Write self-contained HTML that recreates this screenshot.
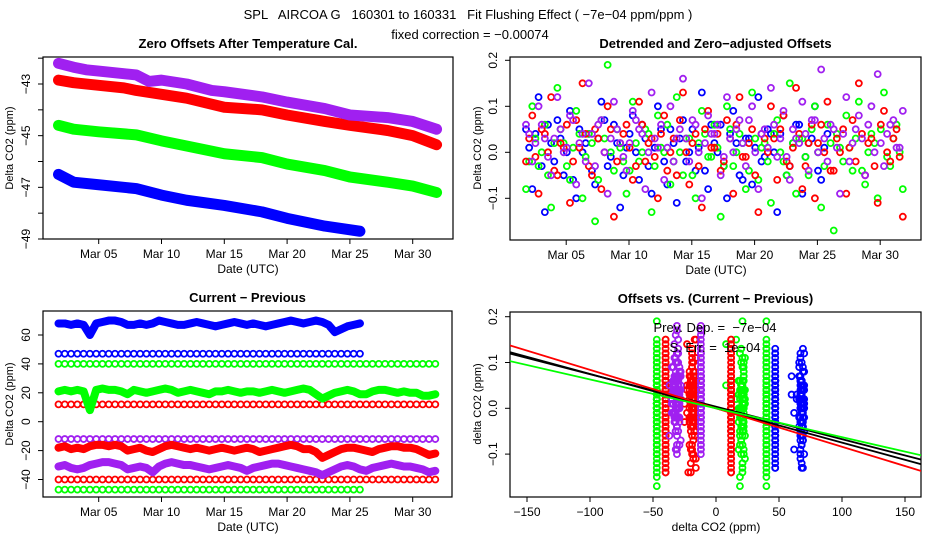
<!DOCTYPE html>
<html><head><meta charset="utf-8"><style>
html,body{margin:0;padding:0;background:#fff;}
svg{display:block;font-family:"Liberation Sans",sans-serif;}
text{white-space:pre;}
</style></head><body>
<svg id="chart" width="936" height="540" viewBox="0 0 936 540" xmlns="http://www.w3.org/2000/svg" xml:space="preserve">
<text x="468" y="19" text-anchor="middle" font-size="13">SPL   AIRCOA G   160301 to 160331   Fit Flushing Effect ( −7e−04 ppm/ppm )</text>
<text x="470" y="39" text-anchor="middle" font-size="13">fixed correction = −0.00074</text>
</svg>
<script>
// ---------- DATA ----------
const colors = {blue:"#0000ff", red:"#ff0000", green:"#00ff00", purple:"#a020f0"};
// Panel 1: zero offsets (day, ppm)
const p1PurpleDays = [1.8,3,4,5,7,8,9,10,12,14,15,18,20,23,25,28,30,31.9];
const p1PurpleVals = [-42.2,-42.35,-42.45,-42.5,-42.6,-42.65,-42.9,-42.85,-43.0,-43.25,-43.3,-43.5,-43.7,-43.95,-44.2,-44.3,-44.45,-44.75];
const p1RedDays = [1.8,3,5,7,8,10,12,15,18,20,23,25,28,30,31.9];
const p1RedVals = [-42.85,-42.95,-43.05,-43.15,-43.25,-43.4,-43.55,-43.9,-44.0,-44.2,-44.45,-44.6,-44.8,-45.0,-45.35];
const p1GreenDays = [1.8,3,5,8,10,12,15,18,20,23,25,28,30,31.9];
const p1GreenVals = [-44.6,-44.75,-44.85,-44.97,-45.2,-45.4,-45.7,-45.85,-46.1,-46.35,-46.6,-46.8,-46.95,-47.2];
const p1BlueDays = [1.8,3,5,8,10,12,15,18,20,23,25.8];
const p1BlueVals = [-46.5,-46.8,-46.9,-47.05,-47.3,-47.5,-47.7,-47.95,-48.2,-48.5,-48.7];

// time grid for panels 2-4 (days, 0.5-day spacing; second set offset 0.25 day)
const startDay = 1.8, stepDay = 0.5, offsetDay2 = 0.25;
// Panel 2: residuals (ppm)
const resBlue = [0.05,-0.08,0.12,-0.13,0.02,0.07,-0.05,0.09,-0.1,0.0,0.04,-0.07,0.11,-0.03,0.06,-0.12,0.01,0.08,-0.06,0.03,-0.09,0.1,-0.02,0.05,-0.11,0.07,0.0,-0.04,0.13,-0.08,0.02,0.06,-0.1,0.09,-0.05,0.03,-0.07,0.12,-0.01,0.04,-0.13,0.08,-0.03,0.06,-0.09,0.02,0.1,-0.06,0.04];
const resRed = [-0.02,0.08,-0.09,0.04,0.12,-0.05,0.01,-0.11,0.07,0.15,-0.03,0.05,-0.08,0.1,-0.14,0.02,0.06,-0.06,0.11,-0.02,0.03,-0.1,0.08,0.0,-0.05,0.13,-0.07,0.04,-0.12,0.09,0.01,-0.04,0.07,-0.09,0.12,-0.01,0.05,-0.13,0.03,0.1,-0.06,0.08,-0.03,0.14,-0.08,0.02,-0.1,0.06,0.11,-0.04,0.0,-0.09,0.07,0.15,-0.05,0.03,-0.11,0.09,-0.02,0.05,-0.14];
const resGreen = [-0.08,0.1,-0.03,0.06,-0.12,0.14,0.02,-0.06,0.09,-0.1,0.04,-0.15,0.07,0.19,-0.04,0.01,-0.09,0.11,-0.02,0.05,-0.13,0.08,0.0,-0.07,0.12,-0.05,0.03,-0.1,0.09,-0.01,0.06,-0.14,0.1,-0.03,0.04,-0.08,0.13,-0.06,0.02,-0.11,0.07,-0.02,0.15,-0.09,0.03,-0.05,0.1,-0.12,0.06,-0.17,0.01,0.08,-0.04,0.11,-0.07,0.04,-0.1,0.13,-0.03,0.06,-0.08];
const resPurple = [0.06,-0.02,0.1,0.03,-0.05,0.12,0.0,0.08,-0.07,0.04,0.15,-0.03,0.07,-0.09,0.11,0.02,-0.04,0.09,0.05,-0.08,0.13,0.01,-0.06,0.1,0.03,0.16,-0.02,0.06,-0.1,0.08,0.04,-0.05,0.12,0.0,0.07,-0.03,0.1,-0.08,0.05,0.14,-0.01,0.09,-0.06,0.03,0.11,-0.04,0.07,0.18,-0.02,0.05,-0.09,0.12,0.02,0.08,-0.05,0.1,0.17,-0.03,0.06,0.01,0.09];
const resBlue2 = [0.01,0.04,-0.03,0.06,-0.02,0.03,0.0,-0.06,0.05,0.02,-0.04,0.03,0.07,-0.01,0.02,-0.05,0.04,0.0,0.06,-0.03,0.01,0.05,-0.07,0.02,0.03,-0.02,0.05,0.01,-0.04,0.06,0.0,-0.03,0.04,0.02,-0.06,0.03,0.01,-0.02,0.05,0.0,0.04,-0.05,0.02,0.06,-0.01,0.03,-0.04,0.01];
const resRed2 = [0.03,-0.01,0.05,0.0,-0.04,0.02,0.06,-0.02,0.01,0.04,-0.05,0.03,0.0,0.05,-0.02,0.04,0.01,-0.03,0.06,0.02,-0.01,0.04,-0.04,0.03,0.07,0.0,0.02,-0.03,0.05,0.01,0.04,-0.02,0.03,0.06,-0.01,0.02,-0.05,0.04,0.0,0.03,0.05,-0.02,0.01,0.04,-0.03,0.06,0.02,0.0,-0.04,0.03,0.05,0.01,-0.02,0.04,0.02,-0.03,0.06,0.0,0.03,-0.01];
const resGreen2 = [-0.02,0.03,0.0,-0.05,0.02,0.05,-0.03,0.01,0.04,-0.01,0.02,-0.06,0.03,0.0,0.05,-0.02,-0.04,0.02,0.0,0.04,-0.03,0.01,0.06,-0.02,0.0,0.03,-0.05,0.02,0.04,-0.01,0.01,-0.03,0.05,0.0,0.02,-0.04,0.03,0.01,-0.02,0.04,0.0,-0.05,0.02,0.03,-0.01,0.05,0.0,-0.03,0.02,0.04,-0.02,0.01,0.03,-0.04,0.0,0.02,0.05,-0.01,0.03,0.0];
const resPurple2 = [0.04,0.02,0.06,-0.01,0.03,0.05,0.01,0.07,0.02,-0.02,0.04,0.06,0.0,0.03,0.05,-0.01,0.02,0.07,0.04,0.0,0.03,0.06,0.01,-0.02,0.05,0.03,0.07,0.0,0.02,0.04,0.06,-0.01,0.03,0.05,0.02,0.07,0.0,0.04,0.01,0.06,0.03,-0.01,0.05,0.02,0.04,0.07,0.0,0.03,0.06,0.01,0.04,-0.02,0.05,0.03,0.06,0.0,0.02,0.04,0.07,0.01];
// Panel 3: current - previous (ppm)
const cpBlueTop = [68,68,67,68,67,60,68,69,70,70,69,67,67,68,67,68,70,69,68,67,67,68,69,68,67,66,67,68,69,68,67,68,67,66,67,68,69,70,69,68,69,70,69,67,62,64,66,67,68];
const cpGreenMid = [21,22,21,22,21,8,22,23,22,22,21,19,22,21,20,21,22,23,22,20,21,22,21,20,19,21,21,22,21,20,21,21,20,21,22,21,20,21,22,23,22,19,16,18,20,21,22,21,19,19,21,22,22,21,20,21,20,20,18,18,19];
const cpRedMid = [-18,-17,-19,-18,-19,-17,-16,-16,-17,-16,-17,-20,-19,-18,-20,-21,-19,-17,-16,-17,-18,-19,-18,-19,-20,-19,-18,-19,-20,-19,-18,-19,-21,-20,-19,-18,-17,-16,-17,-19,-19,-21,-25,-23,-21,-19,-18,-18,-19,-20,-21,-19,-18,-17,-17,-18,-18,-19,-21,-23,-22];
const cpPurpleMid = [-31,-30,-32,-33,-32,-30,-29,-28,-28,-29,-30,-33,-32,-31,-32,-35,-31,-29,-28,-29,-30,-30,-31,-32,-33,-32,-31,-30,-31,-32,-34,-32,-31,-30,-29,-29,-30,-31,-32,-33,-34,-35,-37,-35,-33,-31,-30,-31,-33,-34,-32,-31,-30,-29,-30,-31,-31,-32,-33,-35,-34];
const cpBlueLow = 47, cpGreenHigh = 40, cpRedHigh = 12, cpPurpleHigh = -12, cpRedLow = -40, cpGreenLow = -47;
// Panel 4: fit lines (slope ppm/ppm, intercept ppm)
const fitSlopes = [-7.1e-4, -7.5e-4, -8.4e-4, -6.3e-4];
const fitIntercepts = [0.0035, 0.0, 0.0, 0.0];
const fitColors = ["#000000","#000000","#ff0000","#00ff00"];
const p1Ticks = [-42,-43,-44,-45,-46,-47,-48,-49];
const p1Labels = [-43,-45,-47,-49];
const dayTicks = [5,10,15,20,25,30];
const dayLabels = ["Mar 05","Mar 10","Mar 15","Mar 20","Mar 25","Mar 30"];
const p2Ticks = [0.2,0.1,0.0,-0.1];
const p3Ticks = [60,40,20,0,-20,-40];
const p4XTicks = [-150,-100,-50,0,50,100,150];
const p4YTicks = [0.2,0.1,0.0,-0.1];

// ---------- DRAWING ----------
const svg = document.getElementById('chart');
const NS = "http://www.w3.org/2000/svg";
function el(tag, attrs, parent){const e=document.createElementNS(NS,tag);for(const k in attrs)e.setAttribute(k,attrs[k]);(parent||svg).appendChild(e);return e;}
function lin(d0,d1,r0,r1){return v=>r0+(v-d0)*(r1-r0)/(d1-d0);}

function frame(name, L,T,R,B,title){
  const g=el('g',{});
  
  
  const r=el('rect',{x:L,y:T,width:R-L,height:B-T,fill:'none',stroke:'#000','stroke-width':1.2},g);
  
  
  const t=el('text',{x:(L+R)/2,y:T-9,'text-anchor':'middle','font-size':13,'font-weight':'bold'},g);
  t.textContent=title;
  
  
  return g;
}
function yAxis(g,L,sy,ticks,labels,fmt,title,titleX,midY){
  const ax=el('g',{},g);
  
  
  el('line',{x1:L,x2:L,y1:sy(ticks[0]),y2:sy(ticks[ticks.length-1]),stroke:'#000'},ax);
  ticks.forEach(v=>{el('line',{x1:L-5,x2:L,y1:sy(v),y2:sy(v),stroke:'#000'},ax);});
  labels.forEach(v=>{const t=el('text',{x:L-13,y:sy(v),'text-anchor':'middle','font-size':12,transform:`rotate(-90 ${L-13} ${sy(v)})`},ax);t.textContent=fmt(v);
    
    });
  const tt=el('text',{x:titleX,y:midY,'text-anchor':'middle','font-size':11,transform:`rotate(-90 ${titleX} ${midY})`},ax);tt.textContent=title;
  
  
}
function xAxis(g,B,sx,ticks,labels,title,midX,lineFrom,lineTo){
  const ax=el('g',{},g);
  
  
  el('line',{x1:lineFrom,x2:lineTo,y1:B,y2:B,stroke:'#000'},ax);
  ticks.forEach((v,i)=>{el('line',{x1:sx(v),x2:sx(v),y1:B,y2:B+5,stroke:'#000'},ax);
    if(labels[i]!==null){const t=el('text',{x:sx(v),y:B+19,'text-anchor':'middle','font-size':12},ax);t.textContent=labels[i];
    
    }});
  const tt=el('text',{x:midX,y:B+34,'text-anchor':'middle','font-size':12},ax);tt.textContent=title;
  
  
}
function dayOf(i){return startDay+i*stepDay;}
function fmtPPM(v){return v.toFixed(1).replace('-','−');}
function fmtInt(v){return String(v).replace('-','−');}

// ----- Panel 1 -----
(function(){
  const L=43,T=57,R=453,B=239;
  const g=frame('panel-zero-offsets',L,T,R,B,'Zero Offsets After Temperature Cal.');
  const sx=lin(5,30,98.7,412.7), sy=lin(-43,-49,84,239);
  yAxis(g,L,sy,p1Ticks,p1Labels,fmtInt,'Delta CO2 (ppm)',13,148);
  xAxis(g,B,sx,dayTicks,dayLabels,'Date (UTC)',248,48,445);
  const series=[['blue',p1BlueDays,p1BlueVals],['green',p1GreenDays,p1GreenVals],['red',p1RedDays,p1RedVals],['purple',p1PurpleDays,p1PurpleVals]];
  series.forEach(([c,ds,vs])=>{
    const pl=el('polyline',{points:ds.map((d,i)=>sx(d)+','+sy(vs[i])).join(' '),fill:'none',stroke:colors[c],'stroke-width':11,'stroke-linejoin':'round','stroke-linecap':'round'},g);
    
    
  });
})();

// ----- Panel 2 -----
(function(){
  const L=510,T=57,R=921,B=240;
  const g=frame('panel-detrended',L,T,R,B,'Detrended and Zero−adjusted Offsets');
  const sx=lin(5,30,566.2,880.2), sy=lin(0,-0.1,152.3,198.3);
  yAxis(g,L,sy,p2Ticks,p2Ticks,fmtPPM,'Delta CO2 (ppm)',481,148);
  xAxis(g,B,sx,dayTicks,dayLabels,'Date (UTC)',716,515,915);
  [['blue',resBlue,resBlue2],['green',resGreen,resGreen2],['red',resRed,resRed2],['purple',resPurple,resPurple2]].forEach(([c,arr,arr2])=>{
    arr.forEach((v,i)=>{
      const p=el('circle',{cx:sx(dayOf(i)),cy:sy(v),r:3,fill:'none',stroke:colors[c],'stroke-width':1.8},g);
      
      
    });
    arr2.forEach((v,i)=>{
      const p=el('circle',{cx:sx(dayOf(i)+offsetDay2),cy:sy(v),r:3,fill:'none',stroke:colors[c],'stroke-width':1.8},g);
      
      
    });
  });
})();

// ----- Panel 3 -----
(function(){
  const L=43,T=311,R=452,B=497;
  const g=frame('panel-current-previous',L,T,R,B,'Current − Previous');
  const sx=lin(5,30,98.7,412.7), sy=lin(0,60,421.7,335);
  yAxis(g,L,sy,p3Ticks,p3Ticks,fmtInt,'Delta CO2 (ppm)',13,404);
  xAxis(g,B,sx,dayTicks,dayLabels,'Date (UTC)',248,48,445);
  const nFull=resRed.length, nShort=resBlue.length;
  const flat=[['blue',cpBlueLow,nShort],['green',cpGreenHigh,nFull],['red',cpRedHigh,nFull],['purple',cpPurpleHigh,nFull],['red',cpRedLow,nFull],['green',cpGreenLow,nShort]];
  flat.forEach(([c,v,n])=>{
    for(let i=0;i<n;i++){
      const p=el('circle',{cx:sx(dayOf(i)),cy:sy(v),r:3,fill:'none',stroke:colors[c],'stroke-width':1.8},g);
      
      
    }
  });
  [['blue',cpBlueTop],['green',cpGreenMid],['red',cpRedMid],['purple',cpPurpleMid]].forEach(([c,arr])=>{
    const pl=el('polyline',{points:arr.map((v,i)=>sx(dayOf(i))+','+sy(v)).join(' '),fill:'none',stroke:colors[c],'stroke-width':8,'stroke-linejoin':'round','stroke-linecap':'round'},g);
    
    
  });
})();

// ----- Panel 4 -----
(function(){
  const L=510,T=312,R=921,B=497;
  const g=frame('panel-offsets-vs-cp',L,T,R,B,'Offsets vs. (Current − Previous)');
  const sx=lin(-150,150,527,905), sy=lin(0,0.1,408.3,362.5);
  yAxis(g,L,sy,p4YTicks,p4YTicks,fmtPPM,'delta CO2 (ppm)',481,404);
  xAxis(g,B,sx,p4XTicks,p4XTicks.map(fmtInt),'delta CO2 (ppm)',716,527,905);
  const groups=[['green',[resGreen,resGreen2],[cpGreenLow,cpGreenHigh,cpGreenMid]],['red',[resRed,resRed2],[cpRedLow,cpRedHigh,cpRedMid]],['purple',[resPurple,resPurple2],[cpPurpleMid,cpPurpleHigh]],['blue',[resBlue,resBlue2],[cpBlueLow,cpBlueTop]]];
  groups.forEach(([c,resSets,cls])=>{
    cls.forEach(cl=>{
      resSets.forEach(res=>{
        res.forEach((v,i)=>{
          const xv=Array.isArray(cl)?cl[i]:cl;
          if(xv===undefined)return;
          const p=el('circle',{cx:sx(xv),cy:sy(v),r:3,fill:'none',stroke:colors[c],'stroke-width':1.8},g);
          
          
        });
      });
    });
  });
  const clip=el('clipPath',{id:'p4clip'});
  el('rect',{x:L,y:T,width:R-L,height:B-T},clip);
  fitSlopes.forEach((s,k)=>{
    const x0=-170,x1=170;
    const ln=el('line',{x1:sx(x0),y1:sy(fitIntercepts[k]+s*x0),x2:sx(x1),y2:sy(fitIntercepts[k]+s*x1),stroke:fitColors[k],'stroke-width':1.8,'clip-path':'url(#p4clip)'},g);
    
    
  });
  const t1=el('text',{x:715,y:332,'text-anchor':'middle','font-size':13},g);t1.textContent='Prev. Dep. =  −7e−04';
  
  
  const t2=el('text',{x:715,y:352,'text-anchor':'middle','font-size':13},g);t2.textContent='S. Err. =  1e−04';
  
  
})();
</script>
</body></html>
